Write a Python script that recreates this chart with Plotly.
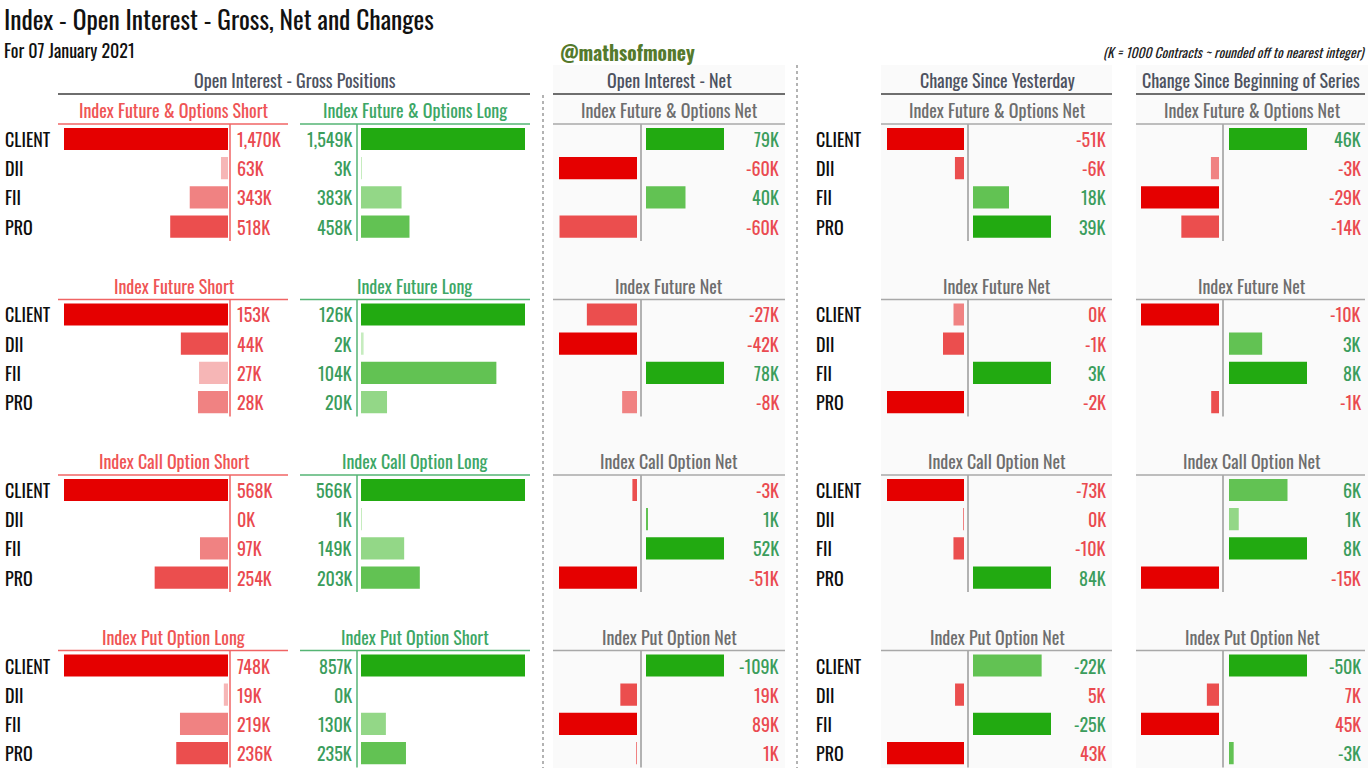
import plotly.graph_objects as go

# ---------------- data ----------------
categories = ["CLIENT", "DII", "FII", "PRO"]

short_titles = ["Index Future & Options Short", "Index Future Short",
                "Index Call Option Short", "Index Put Option Long"]
long_titles = ["Index Future & Options Long", "Index Future Long",
               "Index Call Option Long", "Index Put Option Short"]
net_titles = ["Index Future & Options Net", "Index Future Net",
              "Index Call Option Net", "Index Put Option Net"]

# gross positions (K contracts)
fo_short = [1470, 63, 343, 518]
fo_long = [1549, 3, 383, 458]
fut_short = [153, 44, 27, 28]
fut_long = [126, 2, 104, 20]
call_short = [568, 0, 97, 254]
call_long = [566, 1, 149, 203]
put_long = [748, 19, 219, 236]
put_short = [857, 0, 130, 235]

# net positions (as displayed)
fo_net = [79, -60.2, 40, -59.8]
fut_net = [-27, -42, 78, -8]
call_net = [-3, 1, 52, -51]
put_net = [-109, 19, 89, 1]

# change since yesterday
fo_yest = [-51, -6, 18, 39]
fut_yest = [-0.3, -0.6, 3, -2.2]
call_yest = [-73, -0.2, -10, 84]
put_yest = [-22, 5, -25, 43]

# change since beginning of series
fo_beg = [46, -3, -29, -14]
fut_beg = [-10, 3.4, 8, -1]
call_beg = [6, 1, 8, -15]
put_beg = [-50, 7, 45, -3]

# put panels are drawn with the sign flipped (long puts are bearish)
bar_sign = [1, 1, 1, -1]

gross_short = [fo_short, fut_short, call_short, put_long]
gross_long = [fo_long, fut_long, call_long, put_short]
nets = [fo_net, fut_net, call_net, put_net]
yests = [fo_yest, fut_yest, call_yest, put_yest]
begs = [fo_beg, fut_beg, call_beg, put_beg]

# ---------------- styling ----------------
W, H = 1372, 768
FONT = "Oswald, 'Liberation Sans Narrow', 'DejaVu Sans Condensed', 'Arial Narrow', sans-serif"
RED = ["#e50000", "#eb4e4e", "#f08282", "#f6b6b6"]
GREEN = ["#22aa11", "#62c253", "#93d787", "#c6ecbf"]
TXT_RED = "#ea4a50"
TXT_GREEN = "#3b9d5c"
HDR = "#4d5260"
SUB_GRAY = "#6e6e6e"
VAL_SIZE = 18


def px(x):
    return x / W


def py(y):
    return 1 - y / H


def rank_colors(vals, palette):
    order = sorted(range(len(vals)), key=lambda i: -abs(vals[i]))
    cols = [None] * len(vals)
    for rk, i in enumerate(order):
        cols[i] = palette[min(rk, 3)]
    return cols


def fmt(v):
    return f"{int(round(v)):,}K"


SEC_DY = 175.5
ROW0 = 139
ROW_DY = 29.2

fig = go.Figure()
layout = {}
annotations = []
shapes = []
ax_count = [0]


def new_xaxis(x0, x1, rng, yname):
    ax_count[0] += 1
    n = ax_count[0]
    key = "xaxis" if n == 1 else f"xaxis{n}"
    layout[key] = dict(domain=[px(x0), px(x1)], range=rng, visible=False,
                       fixedrange=True, anchor=yname)
    return "x" if n == 1 else f"x{n}"


def add_bars(xname, yname, vals, colors):
    fig.add_trace(go.Bar(
        x=vals, y=categories, orientation="h", xaxis=xname, yaxis=yname,
        marker=dict(color=colors, line=dict(width=0)), width=0.76,
        hoverinfo="skip", showlegend=False))


def net_panel(s, yname, vals, sign, x_neg, x_pos, x_text, x_line):
    plotted = [v * sign for v in vals]
    negs = [v if v < 0 else None for v in plotted]
    poss = [v if v > 0 else None for v in plotted]
    neg_abs = [abs(v) for v in plotted if v < 0]
    pos_abs = [v for v in plotted if v > 0]
    max_neg = max(neg_abs) if neg_abs else 1
    max_pos = max(pos_abs) if pos_abs else 1
    neg_cols = rank_colors([abs(v) if v < 0 else 0 for v in plotted], RED)
    pos_cols = rank_colors([v if v > 0 else 0 for v in plotted], GREEN)
    xn = new_xaxis(x_neg[0], x_neg[1], [-max_neg, 0], yname)
    add_bars(xn, yname, negs, neg_cols)
    xp = new_xaxis(x_pos[0], x_pos[1], [0, max_pos], yname)
    add_bars(xp, yname, poss, pos_cols)
    for c, v, pv in zip(categories, vals, plotted):
        annotations.append(dict(
            x=px(x_text), xref="paper", y=c, yref=yname, text=fmt(v),
            showarrow=False, xanchor="right", yanchor="middle",
            font=dict(size=VAL_SIZE, color=TXT_GREEN if pv > 0 else TXT_RED)))
    top = 124 + s * SEC_DY
    shapes.append(dict(type="line", xref="paper", yref="paper",
                       x0=px(x_line), x1=px(x_line), y0=py(top), y1=py(top + 117),
                       line=dict(color="#9a9a9a", width=1.5)))


for s in range(4):
    yname = "y" if s == 0 else f"y{s + 1}"
    ykey = "yaxis" if s == 0 else f"yaxis{s + 1}"
    top = ROW0 + s * SEC_DY - ROW_DY / 2
    bot = ROW0 + s * SEC_DY + 3 * ROW_DY + ROW_DY / 2
    layout[ykey] = dict(domain=[py(bot), py(top)], type="category",
                        categoryarray=categories, range=[3.5, -0.5],
                        visible=False, fixedrange=True, anchor="x")

    # ---- gross short (bars grow to the left) ----
    sv = gross_short[s]
    xs = new_xaxis(64, 228, [max(sv), 0], yname)
    add_bars(xs, yname, sv, rank_colors(sv, RED))
    # ---- gross long ----
    lv = gross_long[s]
    xl = new_xaxis(361, 525, [0, max(lv)], yname)
    add_bars(xl, yname, lv, rank_colors(lv, GREEN))

    for c, a, b in zip(categories, sv, lv):
        annotations.append(dict(x=px(235), xref="paper", y=c, yref=yname, text=fmt(a),
                                showarrow=False, xanchor="left", yanchor="middle",
                                font=dict(size=VAL_SIZE, color=TXT_RED)))
        annotations.append(dict(x=px(354), xref="paper", y=c, yref=yname, text=fmt(b),
                                showarrow=False, xanchor="right", yanchor="middle",
                                font=dict(size=VAL_SIZE, color=TXT_GREEN)))
        annotations.append(dict(x=px(3), xref="paper", y=c, yref=yname, text=c,
                                showarrow=False, xanchor="left", yanchor="middle",
                                font=dict(size=18, color="#0d0d0d")))
        annotations.append(dict(x=px(814), xref="paper", y=c, yref=yname, text=c,
                                showarrow=False, xanchor="left", yanchor="middle",
                                font=dict(size=18, color="#0d0d0d")))

    # ---- net panels ----
    net_panel(s, yname, nets[s], bar_sign[s], (559, 637), (646, 724), 781, 641)
    net_panel(s, yname, yests[s], bar_sign[s], (887, 964), (973, 1051), 1108, 968)
    net_panel(s, yname, begs[s], bar_sign[s], (1141, 1219), (1229, 1307), 1363, 1223)

    # ---- sub headers ----
    ty = 110 + s * SEC_DY
    ly = 124 + s * SEC_DY
    for text, cx, col in [(short_titles[s], 174, "#ef5555"), (long_titles[s], 415, "#3da766"),
                          (net_titles[s], 669, SUB_GRAY), (net_titles[s], 997, SUB_GRAY),
                          (net_titles[s], 1252, SUB_GRAY)]:
        annotations.append(dict(x=px(cx), xref="paper", y=py(ty), yref="paper", text=text,
                                showarrow=False, xanchor="center", yanchor="middle",
                                font=dict(size=18, color=col)))
    for x0, x1, col in [(58, 288, "#f06464"), (300, 530, "#55b574"), (553, 785, "#a8a8a8"),
                        (881, 1112, "#a8a8a8"), (1136, 1365, "#a8a8a8")]:
        shapes.append(dict(type="line", xref="paper", yref="paper", x0=px(x0), x1=px(x1),
                           y0=py(ly), y1=py(ly), line=dict(color=col, width=1.5)))
    shapes.append(dict(type="line", xref="paper", yref="paper", x0=px(230), x1=px(230),
                       y0=py(ly), y1=py(ly + 117), line=dict(color="#f06464", width=1.5)))
    shapes.append(dict(type="line", xref="paper", yref="paper", x0=px(357), x1=px(357),
                       y0=py(ly), y1=py(ly + 117), line=dict(color="#55b574", width=1.5)))

# ---- panel backgrounds ----
for x0, x1 in [(553, 785), (881, 1112), (1136, 1368)]:
    shapes.insert(0, dict(type="rect", xref="paper", yref="paper", x0=px(x0), x1=px(x1),
                          y0=0, y1=py(65), fillcolor="#fafafa", line=dict(width=0),
                          layer="below"))

# ---- top headers ----
for text, cx, x0, x1 in [("Open Interest - Gross Positions", 295, 58, 530),
                         ("Open Interest - Net", 669, 553, 785),
                         ("Change Since Yesterday", 997, 881, 1112),
                         ("Change Since Beginning of Series", 1251, 1136, 1365)]:
    annotations.append(dict(x=px(cx), xref="paper", y=py(80), yref="paper", text=text,
                            showarrow=False, xanchor="center", yanchor="middle",
                            font=dict(size=18, color=HDR)))
    shapes.append(dict(type="line", xref="paper", yref="paper", x0=px(x0), x1=px(x1),
                       y0=py(94), y1=py(94), line=dict(color="#6e6e6e", width=2)))

# ---- dotted separators ----
shapes.append(dict(type="line", xref="paper", yref="paper", x0=px(543), x1=px(543),
                   y0=py(95), y1=0, line=dict(color="#9a9a9a", width=1.5, dash="dot")))
shapes.append(dict(type="line", xref="paper", yref="paper", x0=px(797), x1=px(797),
                   y0=py(65), y1=0, line=dict(color="#9a9a9a", width=1.5, dash="dot")))

# ---- titles ----
annotations.append(dict(x=px(2), xref="paper", y=py(18), yref="paper",
                        text="Index - Open Interest - Gross, Net and Changes",
                        showarrow=False, xanchor="left", yanchor="middle",
                        font=dict(size=25.5, color="#111111")))
annotations.append(dict(x=px(2), xref="paper", y=py(50), yref="paper",
                        text="For 07 January 2021", showarrow=False, xanchor="left",
                        yanchor="middle", font=dict(size=18, color="#111111")))
annotations.append(dict(x=px(558), xref="paper", y=py(52), yref="paper",
                        text="<b>@mathsofmoney</b>", showarrow=False, xanchor="left",
                        yanchor="middle", font=dict(size=19.5, color="#557a2c")))
annotations.append(dict(x=px(1367), xref="paper", y=py(52), yref="paper",
                        text="<i>(K = 1000 Contracts ~ rounded off to nearest integer)</i>",
                        showarrow=False, xanchor="right", yanchor="middle",
                        font=dict(size=13.5, color="#222222")))

fig.update_layout(
    width=W, height=H, margin=dict(l=0, r=0, t=0, b=0),
    paper_bgcolor="white", plot_bgcolor="rgba(0,0,0,0)",
    font=dict(family=FONT), barmode="overlay", showlegend=False,
    annotations=annotations, shapes=shapes, **layout)

fig.write_html("out.html", config={"displayModeBar": False},
               post_script="document.body.style.margin='0';document.body.style.overflow='hidden';")
